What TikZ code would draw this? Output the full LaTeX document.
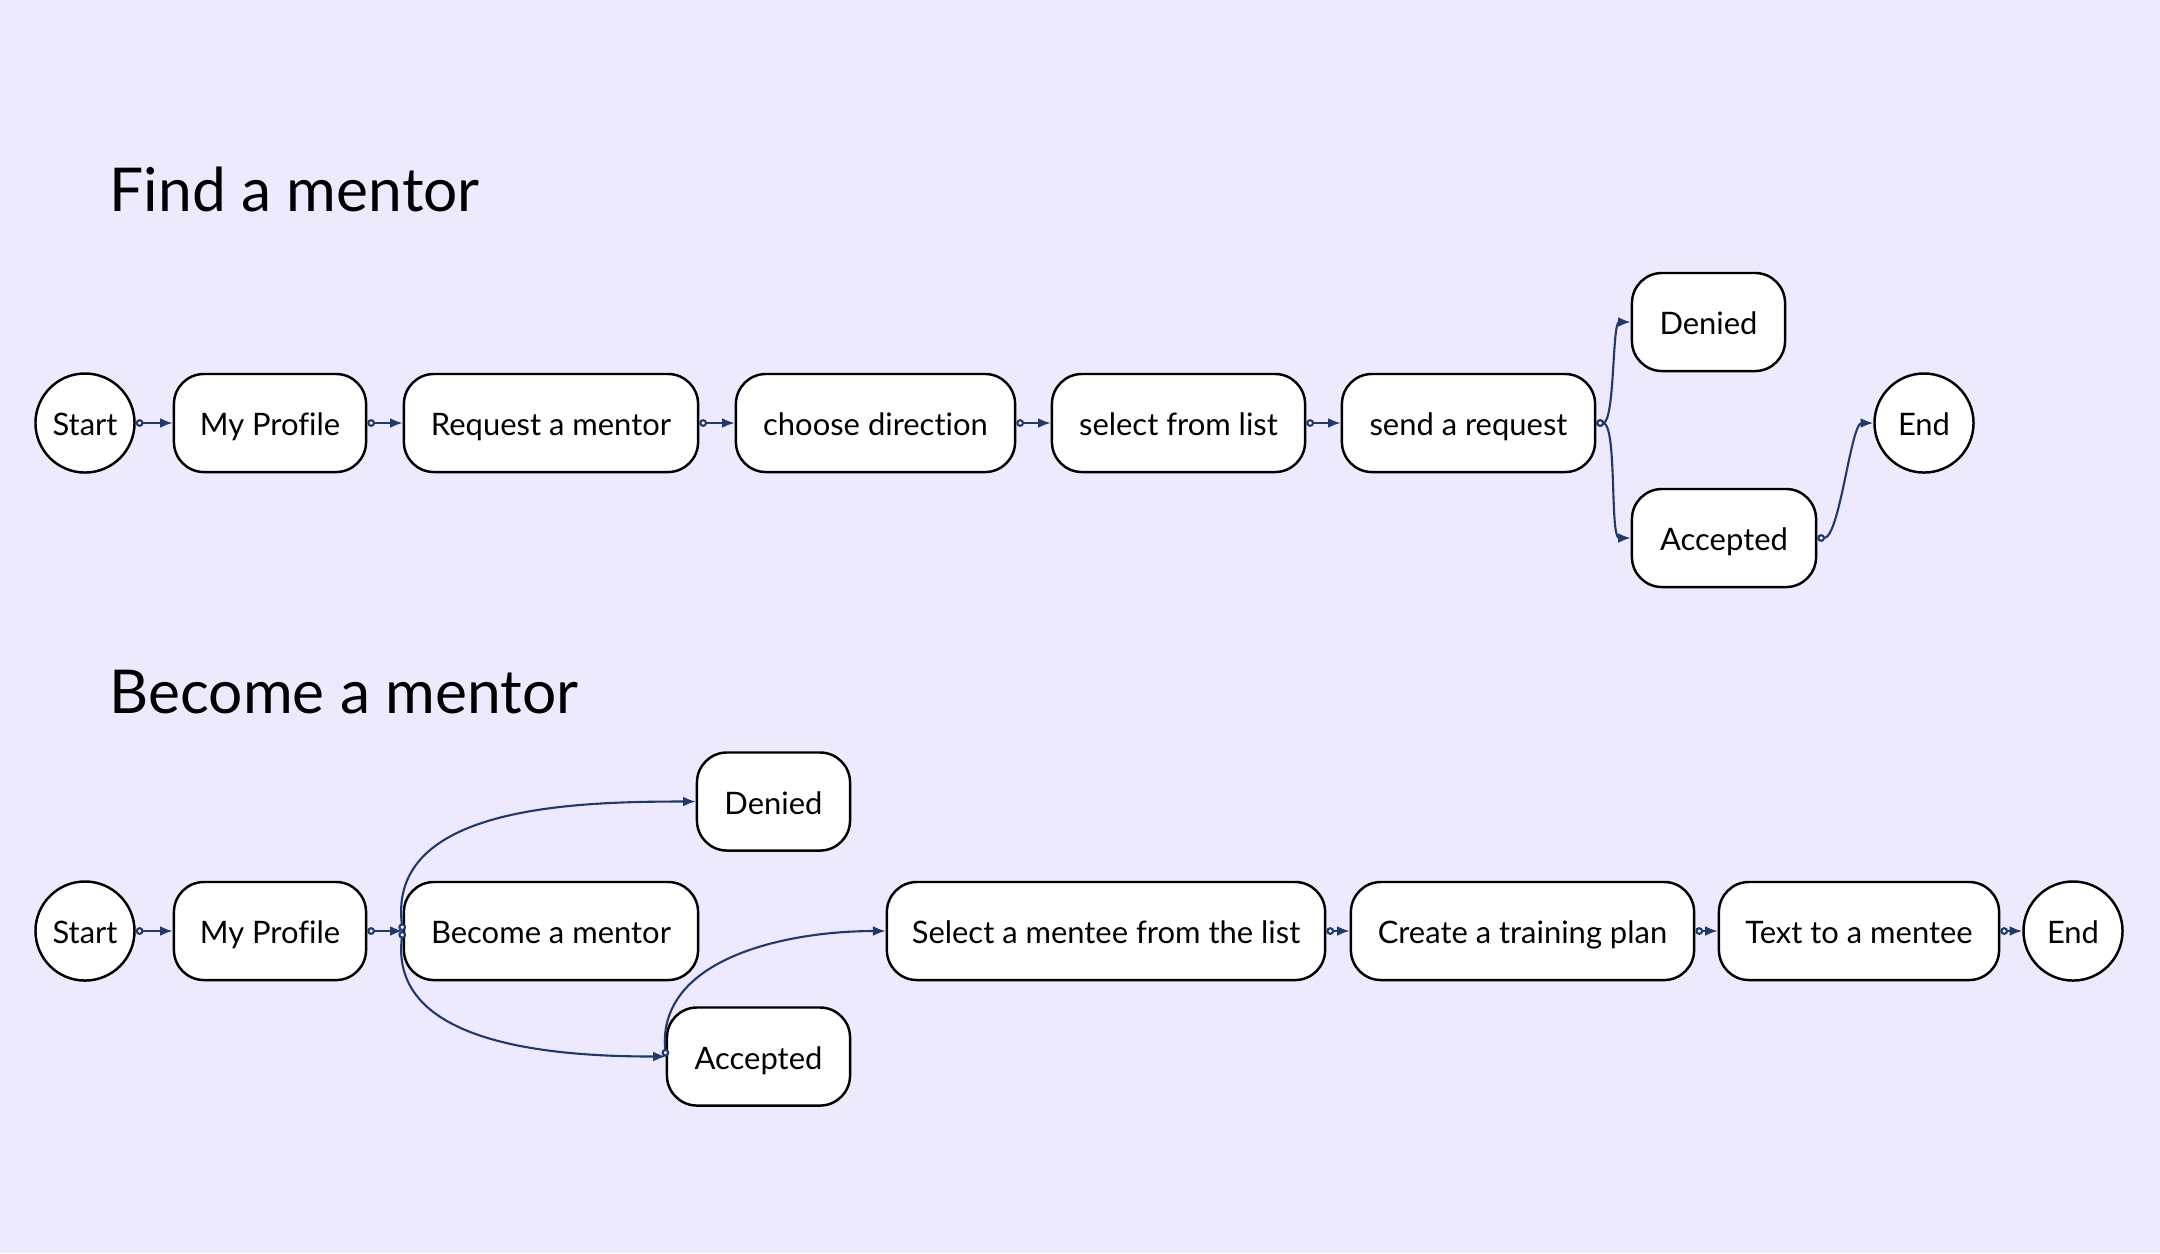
\documentclass[tikz,border=0pt]{standalone}
\usepackage{fontspec}
\setmainfont{Lato}[Ligatures=NoCommon]
\usetikzlibrary{arrows.meta}

\definecolor{bgcol}{RGB}{238,234,254}
\definecolor{linkcol}{RGB}{30,58,108}

\tikzset{
  state/.style={draw, fill=white, line width=0.7pt, rounded corners=0.3cm,
    minimum height=0.98cm, inner sep=0pt, text height=0.72em, text depth=0pt,
    font=\fontsize{8.8}{10}\selectfont},
  terminal/.style={draw, fill=white, line width=0.7pt, circle, minimum size=0.99cm,
    inner sep=0pt, text height=0.72em, text depth=0pt, font=\fontsize{8.8}{10}\selectfont},
  title/.style={anchor=base west, inner sep=0pt, font=\fontsize{17.2}{20}\selectfont},
  link/.style={linkcol, line width=0.6pt,
    {Circle[open, length=2.2pt, fill=white]}-{Latex[length=3.6pt, width=2.8pt]}},
}

\begin{document}
\begin{tikzpicture}[x=0.01cm, y=-0.01cm]
  \fill[bgcol] (0,0) rectangle (2160,1253);
  \useasboundingbox (0,0) rectangle (2160,1253);

  \node[title] (findT)   at (109,211) {Find a mentor};
  \node[title] (becomeT) at (109,713) {Become a mentor};

  \node[terminal]                   (fStart)   at (85,423)     {Start};
  \node[state, minimum width=1.92cm] (fProfile) at (270,423)    {My Profile};
  \node[state, minimum width=2.94cm] (fRequest) at (551,423)    {Request a mentor};
  \node[state, minimum width=2.79cm] (fDir)     at (875.5,423)  {choose direction};
  \node[state, minimum width=2.53cm] (fSelect)  at (1178.5,423) {select from list};
  \node[state, minimum width=2.53cm] (fSend)    at (1468.5,423) {send a request};
  \node[state, minimum width=1.53cm] (fDenied)  at (1708.5,322) {Denied};
  \node[state, minimum width=1.84cm] (fAccept)  at (1724,538)   {Accepted};
  \node[terminal]                   (fEnd)     at (1924,423)   {End};

  \draw[link] (fStart) -- (fProfile);
  \draw[link] (fProfile) -- (fRequest);
  \draw[link] (fRequest) -- (fDir);
  \draw[link] (fDir) -- (fSelect);
  \draw[link] (fSelect) -- (fSend);
  \draw[link] (fSend.east) to[out=0, in=180, looseness=0.45] (fDenied.west);
  \draw[link] (fSend.east) to[out=0, in=180, looseness=0.45] (fAccept.west);
  \draw[link] (fAccept.east) to[out=0, in=180, looseness=0.45] (fEnd.west);

  \node[terminal]                   (bStart)   at (85,931)     {Start};
  \node[state, minimum width=1.92cm] (bProfile) at (270,931)    {My Profile};
  \node[state, minimum width=2.94cm] (bBecome)  at (551,931)    {Become a mentor};
  \node[state, minimum width=1.53cm] (bDenied)  at (773.5,801.5) {Denied};
  \node[state, minimum width=1.83cm] (bAccept)  at (758.5,1056.5) {Accepted};
  \node[state, minimum width=4.38cm] (bMentee)  at (1106,931)   {Select a mentee from the list};
  \node[state, minimum width=3.43cm] (bPlan)    at (1522.5,931) {Create a training plan};
  \node[state, minimum width=2.80cm] (bText)    at (1859,931)   {Text to a mentee};
  \node[terminal]                   (bEnd)     at (2073,931)   {End};

  \draw[link] (bStart) -- (bProfile);
  \draw[link] (bProfile) -- (bBecome);
  \draw[link] (bBecome.west) to[out=97, in=180] (bDenied.west);
  \draw[link] (bBecome.west) to[out=-97, in=180] (bAccept.west);
  \draw[link] (bAccept.west) to[out=95, in=180] (bMentee.west);
  \draw[link] (bMentee) -- (bPlan);
  \draw[link] (bPlan) -- (bText);
  \draw[link] (bText) -- (bEnd);
\end{tikzpicture}
\end{document}
